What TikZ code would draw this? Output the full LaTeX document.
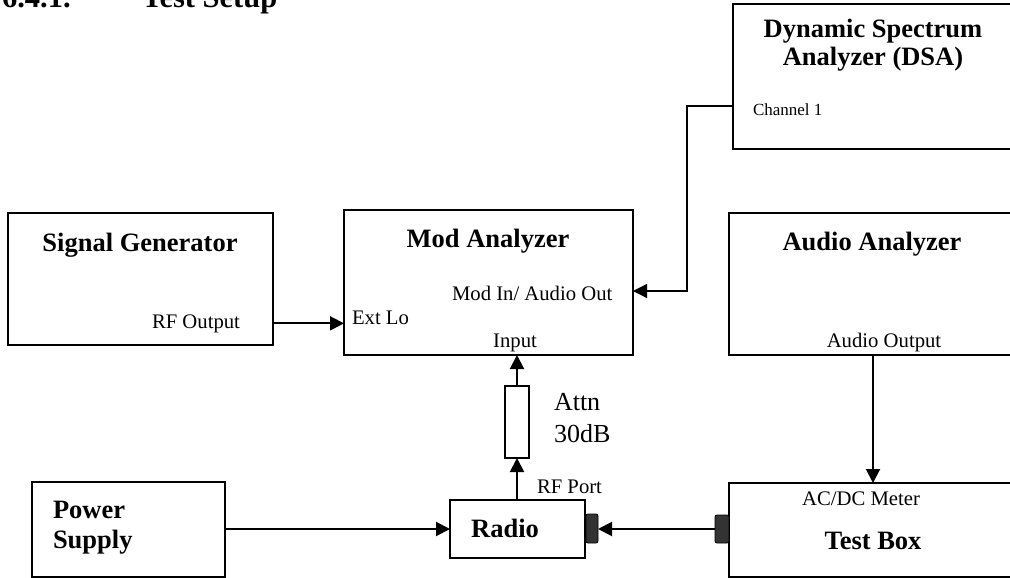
\documentclass[tikz,border=0pt]{standalone}
\usepackage{fontspec}
\setmainfont{Liberation Serif}
\usetikzlibrary{arrows.meta}

\begin{document}
\begin{tikzpicture}[x=1pt, y=-1pt,
    every node/.style={inner sep=0pt, outer sep=0pt},
    unit/.style={draw, line width=1.8pt, anchor=north west},
    jack/.style={draw, fill=black!80, rounded corners=2pt, line width=0.8pt, anchor=north west},
    head/.style={font=\fontsize{26.5}{28}\selectfont\bfseries, anchor=base},
    port/.style={font=\fontsize{20.7}{22}\selectfont, anchor=base},
    wire/.style={line width=2pt, -{Triangle[length=14pt, width=14pt]}}
  ]
  \path[use as bounding box, clip] (0,0) rectangle (1010,578);

  % section title, cut at the top
  \node[font=\fontsize{30.5}{32}\selectfont\bfseries, anchor=base west] (secnum) at (2,8) {6.4.1.};
  \node[font=\fontsize{30.5}{32}\selectfont\bfseries, anchor=base west] (sectitle) at (142,8) {Test Setup};

  % instruments
  \node[unit, minimum width=265pt, minimum height=132pt] (gen)   at (8,213)   {};
  \node[unit, minimum width=289pt, minimum height=145pt] (mod)   at (344,210) {};
  \node[unit, minimum width=279pt, minimum height=145pt] (dsa)   at (733,4)   {};
  \node[unit, minimum width=288pt, minimum height=142pt] (audio) at (729,213) {};
  \node[unit, minimum width=193pt, minimum height=95pt]  (power) at (32,482)  {};
  \node[unit, minimum width=135pt, minimum height=58pt]  (radio) at (450,500) {};
  \node[unit, minimum width=288pt, minimum height=94pt]  (test)  at (729,483) {};
  \node[unit, line width=1.5pt, minimum width=24pt, minimum height=72pt] (attn) at (505,386) {};
  \node[jack, minimum width=12pt, minimum height=29pt] (jackr) at (586,514) {};
  \node[jack, minimum width=14pt, minimum height=28pt] (jackt) at (715,515) {};

  % titles
  \node[head] (gen-t)   at (140,251) {Signal Generator};
  \node[head] (mod-t)   at (488,247) {Mod Analyzer};
  \node[head] (dsa-t1)  at (873,38)  {Dynamic Spectrum};
  \node[head] (dsa-t2)  at (873,66)  {Analyzer (DSA)};
  \node[head] (audio-t) at (872,250) {Audio Analyzer};
  \node[head, anchor=base west] (power-t1) at (53,518) {Power};
  \node[head, anchor=base west] (power-t2) at (53,548) {Supply};
  \node[head] (radio-t) at (505,537) {Radio};
  \node[head] (test-t)  at (873,549) {Test Box};

  % ports
  \node[port, anchor=base east] (rfout)  at (240,328) {RF Output};
  \node[port, anchor=base west] (extlo)  at (352,324) {Ext Lo};
  \node[port, anchor=base west] (modin)  at (452,300) {Mod In/ Audio Out};
  \node[port] (input)  at (515,347) {Input};
  \node[port, anchor=base west, font=\fontsize{17}{19}\selectfont] (chan1) at (753,116) {Channel 1};
  \node[port] (audout) at (884,347) {Audio Output};
  \node[port] (acdc)   at (861,505) {AC/DC Meter};
  \node[port, anchor=base west] (rfport) at (537,493) {RF Port};
  \node[anchor=base west, font=\fontsize{26}{28}\selectfont] (attn-t1) at (554,410) {Attn};
  \node[anchor=base west, font=\fontsize{26}{28}\selectfont] (attn-t2) at (554,442) {30dB};

  \coordinate (dsain) at (733,106);
  \coordinate (modback) at (633,291);

  % connections
  \draw[wire] (gen.east |- rfout) -- (mod.west |- rfout);
  \draw[wire, line width=1.3pt] (dsain) -- ++(-46,0) |- (modback);
  \draw[wire] (power.east |- radio.west) -- (radio.west);
  \draw[wire] (attn.south |- radio.north) -- (attn.south);
  \draw[wire] (attn.north) -- (attn.north |- mod.south);
  \draw[wire] (audio.south) -- (audio.south |- test.north);
  \draw[wire] (jackt.west) -- (jackr.east |- jackt.west);
\end{tikzpicture}
\end{document}
